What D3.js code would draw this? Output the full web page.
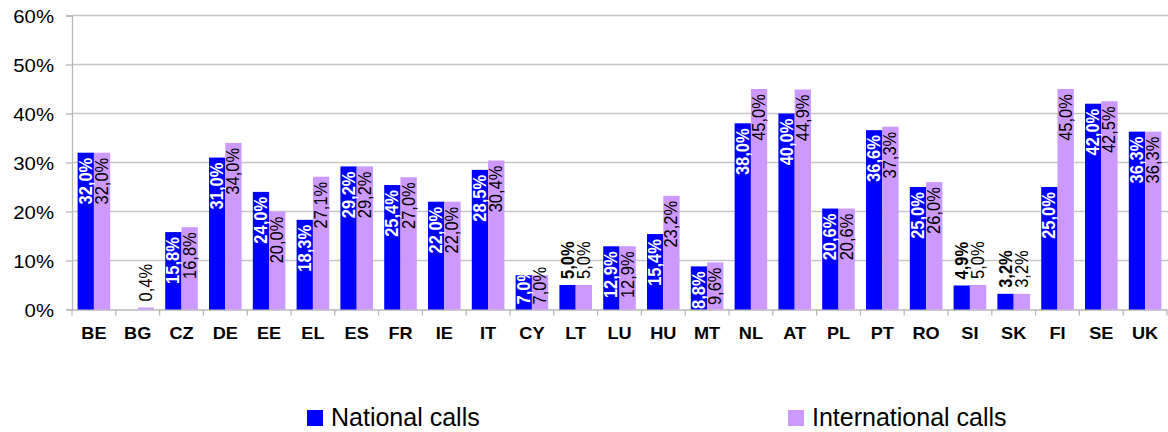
<!DOCTYPE html>
<html>
<head>
<meta charset="utf-8">
<script src="https://cdn.jsdelivr.net/npm/d3@7"></script>
<style>
  body { margin: 0; background: #fff; }
  svg { display: block; font-family: "Liberation Sans", Arial, sans-serif; }
</style>
</head>
<body>
<svg id="chart"></svg>
<script>
// chart data
const countries = ["BE", "BG", "CZ", "DE", "EE", "EL", "ES", "FR", "IE", "IT", "CY", "LT", "LU",
                   "HU", "MT", "NL", "AT", "PL", "PT", "RO", "SI", "SK", "FI", "SE", "UK"];
const nationalCalls = [32.0, null, 15.8, 31.0, 24.0, 18.3, 29.2, 25.4, 22.0, 28.5, 7.0, 5.0, 12.9,
                       15.4, 8.8, 38.0, 40.0, 20.6, 36.6, 25.0, 4.9, 3.2, 25.0, 42.0, 36.3];
const internationalCalls = [32.0, 0.4, 16.8, 34.0, 20.0, 27.1, 29.2, 27.0, 22.0, 30.4, 7.0, 5.0, 12.9,
                            23.2, 9.6, 45.0, 44.9, 20.6, 37.3, 26.0, 5.0, 3.2, 45.0, 42.5, 36.3];
const seriesNames = ["National calls", "International calls"];
const yTicks = [0, 10, 20, 30, 40, 50, 60];

const w = 1168, h = 432;
const plotLeft = 72, plotRight = 1167, plotTop = 15.5, plotBottom = 309.5;
const colors = {"National calls": "#0000ff", "International calls": "#cc99ff"};

const svg = d3.select("#chart").attr("width", w).attr("height", h);

const x0 = d3.scaleBand().domain(countries).range([plotLeft, plotRight]).paddingInner(0.256).paddingOuter(0.128);
const x1 = d3.scaleBand().domain(seriesNames).range([0, x0.bandwidth()]);
const y = d3.scaleLinear().domain([0, 60]).range([plotBottom, plotTop]);
const fmt = v => d3.format(".1f")(v).replace(".", ",") + "%";

// gridlines
svg.append("g")
  .selectAll("line")
  .data(yTicks.filter(t => t > 0))
  .join("line")
  .attr("x1", plotLeft).attr("x2", plotRight + 1)
  .attr("y1", d => y(d)).attr("y2", d => y(d))
  .attr("stroke", "#c6c6c6").attr("stroke-width", 1.3);

// y axis
const axisY = svg.append("g")
  .attr("transform", `translate(${plotLeft},0)`)
  .call(d3.axisLeft(y).tickValues(yTicks).tickSize(6).tickFormat(""));
axisY.selectAll("path, line").attr("stroke", "#b8b8b8").attr("stroke-width", 1.3);

svg.append("g")
  .selectAll("text")
  .data(yTicks)
  .join("text")
  .attr("transform", d => `translate(54,${y(d) + 7}) scale(1.1,1)`)
  .attr("text-anchor", "end")
  .style("font-size", "18.5px")
  .attr("fill", "#000")
  .text(d => d + "%");

// x axis
const axisX = svg.append("g")
  .attr("transform", `translate(0,${plotBottom})`)
  .call(d3.axisBottom(x0).tickSize(0).tickFormat(""));
axisX.select("path").attr("stroke", "#b8b8b8").attr("stroke-width", 1.3);
axisX.selectAll(".tick").remove();

const step = x0.step();
axisX.selectAll("line.sep")
  .data(d3.range(countries.length + 1))
  .join("line")
  .attr("class", "sep")
  .attr("x1", i => plotLeft + i * step).attr("x2", i => plotLeft + i * step)
  .attr("y1", 0).attr("y2", 6)
  .attr("stroke", "#b8b8b8").attr("stroke-width", 1.3);

svg.append("g")
  .selectAll("text")
  .data(countries)
  .join("text")
  .attr("transform", d => `translate(${x0(d) + x0.bandwidth() / 2},339) scale(1.1,1)`)
  .attr("text-anchor", "middle")
  .style("font-size", "16.5px")
  .style("font-weight", "bold")
  .text(d => d);

// bars
const rows = [];
countries.forEach((c, i) => {
  rows.push({country: c, series: seriesNames[0], value: nationalCalls[i]});
  rows.push({country: c, series: seriesNames[1], value: internationalCalls[i]});
});
const bars = rows.filter(d => d.value != null);

svg.append("g")
  .selectAll("rect")
  .data(bars)
  .join("rect")
  .attr("x", d => x0(d.country) + x1(d.series))
  .attr("y", d => y(d.value))
  .attr("width", x1.bandwidth())
  .attr("height", d => y(0) - y(d.value))
  .attr("fill", d => colors[d.series]);

// data labels, rotated
const labels = svg.append("g")
  .selectAll("text")
  .data(bars)
  .join("text")
  .style("font-size", "16.5px")
  .style("font-weight", d => d.series === seriesNames[0] ? "bold" : "normal")
  .attr("fill", d => (d.series === seriesNames[0] && d.value >= 6) ? "#fff" : "#000")
  .text(d => fmt(d.value));

labels.each(function(d) {
  const len = this.getComputedTextLength();
  const cx = x0(d.country) + x1(d.series) + x1.bandwidth() / 2 + 6;
  const barTop = y(d.value);
  let start;
  if (d.value < 6) {
    start = barTop - 6;
  } else {
    start = barTop + 5 + len;
    // short bars: keep the label above the axis
    if (start > plotBottom + 2) start = plotBottom - 5;
  }
  d3.select(this).attr("transform", `translate(${cx},${start}) scale(1.1,1) rotate(-90)`);
});

// legend
const legend = svg.append("g");
const legendX = [307, 788];
seriesNames.forEach((s, i) => {
  legend.append("rect")
    .attr("x", legendX[i]).attr("y", 410)
    .attr("width", 16).attr("height", 16)
    .attr("fill", colors[s]);
  legend.append("text")
    .attr("x", legendX[i] + 24).attr("y", 426)
    .style("font-size", "25px")
    .text(s);
});
</script>
</body>
</html>
